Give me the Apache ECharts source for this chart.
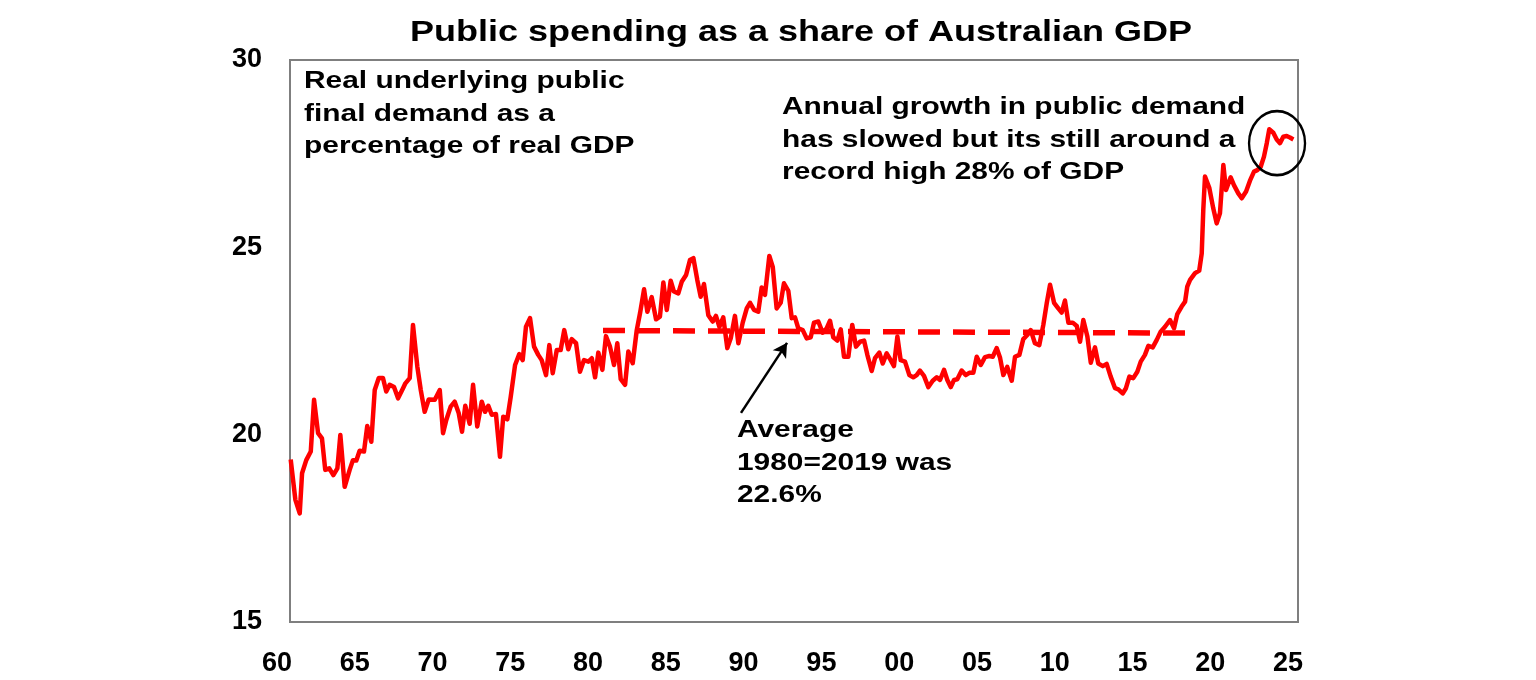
<!DOCTYPE html>
<html>
<head>
<meta charset="utf-8">
<script src="https://cdn.jsdelivr.net/npm/echarts@6/dist/echarts.min.js"></script>
<style>html,body{margin:0;padding:0;background:#fff}#c{width:1536px;height:680px}</style>
</head>
<body>
<div id="c"></div>
<script>
// Years (decimal) and values (% of GDP)
const years = [1960.88,1961.18,1961.46,1961.61,1961.88,1962.17,1962.38,1962.64,1962.89,1963.10,1963.36,1963.62,1963.88,1964.07,1964.35,1964.67,1964.88,1965.10,1965.31,1965.59,1965.80,1966.06,1966.28,1966.54,1966.81,1967.02,1967.24,1967.52,1967.78,1968.10,1968.25,1968.53,1968.74,1969.02,1969.24,1969.49,1969.75,1970.14,1970.46,1970.67,1970.88,1971.16,1971.42,1971.68,1971.89,1972.10,1972.38,1972.60,1972.87,1973.16,1973.37,1973.58,1973.80,1974.07,1974.33,1974.54,1974.80,1975.02,1975.30,1975.57,1975.79,1976.00,1976.26,1976.52,1976.79,1977.01,1977.29,1977.50,1977.72,1977.98,1978.23,1978.46,1978.72,1978.94,1979.22,1979.47,1979.73,1980.01,1980.23,1980.44,1980.65,1980.91,1981.14,1981.40,1981.66,1981.87,1982.09,1982.37,1982.58,1982.86,1983.12,1983.33,1983.59,1983.80,1984.08,1984.36,1984.61,1984.83,1985.05,1985.30,1985.51,1985.79,1986.01,1986.29,1986.54,1986.76,1987.01,1987.23,1987.44,1987.72,1988.00,1988.21,1988.43,1988.68,1988.94,1989.16,1989.43,1989.65,1989.93,1990.19,1990.40,1990.66,1990.93,1991.15,1991.36,1991.64,1991.86,1992.11,1992.37,1992.58,1992.86,1993.08,1993.29,1993.50,1993.79,1994.04,1994.30,1994.51,1994.79,1995.07,1995.33,1995.54,1995.75,1996.01,1996.23,1996.44,1996.72,1996.97,1997.21,1997.47,1997.73,1997.94,1998.22,1998.43,1998.71,1998.93,1999.18,1999.44,1999.65,1999.87,2000.08,2000.36,2000.64,2000.89,2001.11,2001.32,2001.58,2001.86,2002.14,2002.40,2002.61,2002.87,2003.08,2003.30,2003.51,2003.72,2004.00,2004.26,2004.49,2004.75,2004.97,2005.23,2005.50,2005.78,2006.00,2006.25,2006.47,2006.68,2006.93,2007.22,2007.43,2007.71,2007.96,2008.22,2008.44,2008.71,2008.99,2009.25,2009.47,2009.68,2009.94,2010.21,2010.43,2010.64,2010.86,2011.14,2011.40,2011.61,2011.82,2012.08,2012.30,2012.57,2012.78,2013.07,2013.32,2013.58,2013.86,2014.07,2014.35,2014.56,2014.78,2015.03,2015.29,2015.51,2015.78,2016.00,2016.28,2016.54,2016.79,2017.07,2017.39,2017.65,2017.86,2018.14,2018.36,2018.50,2018.68,2019.00,2019.27,2019.43,2019.53,2019.64,2019.92,2020.17,2020.39,2020.60,2020.82,2020.99,2021.29,2021.50,2021.78,2022.00,2022.28,2022.53,2022.79,2023.00,2023.22,2023.43,2023.61,2023.77,2024.03,2024.25,2024.46,2024.67,2024.89,2025.10,2025.32];
const share = [19.34,18.26,17.90,18.97,19.32,19.55,20.93,20.04,19.90,19.06,19.10,18.92,19.10,19.99,18.61,19.06,19.32,19.31,19.57,19.55,20.23,19.81,21.19,21.51,21.51,21.15,21.33,21.27,20.97,21.24,21.37,21.51,22.93,21.81,21.19,20.61,20.94,20.93,21.19,20.04,20.39,20.75,20.88,20.57,20.08,20.77,20.29,21.33,20.22,20.88,20.61,20.77,20.53,20.55,19.41,20.48,20.41,21.01,21.86,22.15,21.99,22.88,23.11,22.35,22.13,21.99,21.59,22.39,21.64,22.26,22.26,22.79,22.28,22.55,22.44,21.68,21.99,21.95,22.04,21.53,22.19,21.73,22.63,22.35,21.86,22.44,21.48,21.33,22.22,21.91,22.79,23.24,23.88,23.28,23.67,23.08,23.15,24.06,23.33,24.11,23.82,23.77,24.08,24.26,24.66,24.71,24.13,23.68,24.02,23.19,23.02,23.17,22.88,23.13,22.31,22.57,23.17,22.44,22.99,23.37,23.52,23.33,23.28,23.93,23.73,24.77,24.48,23.37,23.52,24.04,23.84,23.11,23.13,22.84,22.79,22.57,22.60,22.99,23.02,22.72,22.84,23.04,22.60,22.51,22.81,22.08,22.08,22.93,22.35,22.48,22.51,22.13,21.70,22.04,22.19,21.90,22.17,21.99,21.83,22.62,21.99,21.95,21.59,21.53,21.59,21.71,21.57,21.27,21.44,21.53,21.46,21.73,21.46,21.27,21.46,21.48,21.71,21.59,21.65,21.65,22.08,21.86,22.07,22.10,22.08,22.31,22.05,21.59,21.81,21.44,22.08,22.13,22.55,22.66,22.79,22.44,22.39,22.93,23.51,24.00,23.52,23.37,23.26,23.58,22.99,22.99,22.90,22.48,23.06,22.62,21.92,22.33,21.90,21.83,21.89,21.55,21.24,21.21,21.10,21.24,21.55,21.51,21.68,21.95,22.13,22.37,22.33,22.53,22.75,22.88,23.06,22.84,23.22,23.42,23.55,23.95,24.13,24.31,24.38,24.84,26.00,26.89,26.58,26.04,25.64,25.91,27.20,26.53,26.87,26.66,26.44,26.31,26.49,26.78,27.02,27.06,27.15,27.42,27.78,28.15,28.06,27.88,27.78,27.95,27.97,27.93,27.88];
// Average 1980-2019 line (start and end)
const avgYears = [1980.95, 2019.19];
const avgValues = [22.78, 22.71];
// Annotation anchors in data space
const arrowFrom = [1989.82, 20.58];
const arrowTo = [1992.78, 22.45];
const circleAt = [2024.27, 27.78];
// Axis labels
const xTickYears = [1960,1965,1970,1975,1980,1985,1990,1995,2000,2005,2010,2015,2020,2025];
const yTicks = [15,20,25,30];

const titleText = 'Public spending as a share of Australian GDP';
const note1 = 'Real underlying public\nfinal demand as a\npercentage of real GDP';
const note2 = 'Annual growth in public demand\nhas slowed but its still around a\nrecord high 28% of GDP';
const note3 = 'Average\n1980=2019 was\n22.6%';

const FONT = '"Liberation Sans", Arial, sans-serif';
const chart = echarts.init(document.getElementById('c'));
const lineData = years.map((y, i) => [y, share[i]]);
const avgData = avgYears.map((y, i) => [y, avgValues[i]]);

chart.setOption({
  animation: false,
  backgroundColor: '#fff',
  grid: [
    {left: 290, right: 238, top: 60, bottom: 58, show: true, borderColor: '#7f7f7f', borderWidth: 2, backgroundColor: 'transparent'},
    {left: 277, right: 248, top: 60, bottom: 58, show: false}
  ],
  xAxis: [
    {type: 'value', gridIndex: 0, min: 1960.835, max: 2025.617, axisLine: {show: false}, axisTick: {show: false}, axisLabel: {show: false}, splitLine: {show: false}},
    {type: 'value', gridIndex: 1, min: xTickYears[0], max: xTickYears[xTickYears.length - 1], interval: 5,
     axisLine: {show: false}, axisTick: {show: false}, splitLine: {show: false},
     axisLabel: {margin: 28, fontSize: 27, fontWeight: 'bold', color: '#000', fontFamily: FONT,
       formatter: v => String(Math.round(v) % 100).padStart(2, '0')}}
  ],
  yAxis: [
    {type: 'value', gridIndex: 0, min: yTicks[0], max: yTicks[yTicks.length - 1], interval: 5,
     axisLine: {show: false}, axisTick: {show: false}, splitLine: {show: false},
     axisLabel: {margin: 28, fontSize: 27, fontWeight: 'bold', color: '#000', fontFamily: FONT}},
    {type: 'value', gridIndex: 1, min: 15, max: 30, show: false}
  ],
  series: [
    {type: 'line', xAxisIndex: 0, yAxisIndex: 0, data: avgData, symbol: 'none',
     lineStyle: {color: '#ff0000', width: 5.5, type: [22, 13]}, z: 2},
    {type: 'line', xAxisIndex: 0, yAxisIndex: 0, data: lineData, symbol: 'none',
     lineStyle: {color: '#ff0000', width: 4.5, join: 'round'}, z: 3,
     markLine: {silent: true, symbol: ['none', 'arrow'], symbolSize: [12, 14], label: {show: false},
       lineStyle: {color: '#000', width: 2.5, type: 'solid'},
       data: [[{coord: arrowFrom}, {coord: arrowTo}]]},
     markPoint: {silent: true, symbol: 'circle', symbolSize: [56, 64], label: {show: false},
       itemStyle: {color: 'rgba(0,0,0,0)', borderColor: '#000', borderWidth: 2.5},
       data: [{coord: circleAt}]}
    }
  ],
  graphic: [
    {type: 'text', x: 801, y: 33, scaleX: 1.2, style: {text: titleText, font: 'bold 30px ' + FONT, fill: '#000', textAlign: 'center', textVerticalAlign: 'middle'}},
    {type: 'text', x: 304, y: 65, scaleX: 1.22, style: {text: note1, font: 'bold 24.5px ' + FONT, lineHeight: 32.5, fill: '#000', textAlign: 'left', textVerticalAlign: 'top'}},
    {type: 'text', x: 782, y: 91, scaleX: 1.22, style: {text: note2, font: 'bold 24.5px ' + FONT, lineHeight: 32.5, fill: '#000', textAlign: 'left', textVerticalAlign: 'top'}},
    {type: 'text', x: 737, y: 414, scaleX: 1.22, style: {text: note3, font: 'bold 24.5px ' + FONT, lineHeight: 32.5, fill: '#000', textAlign: 'left', textVerticalAlign: 'top'}}
  ]
});
</script>
</body>
</html>
